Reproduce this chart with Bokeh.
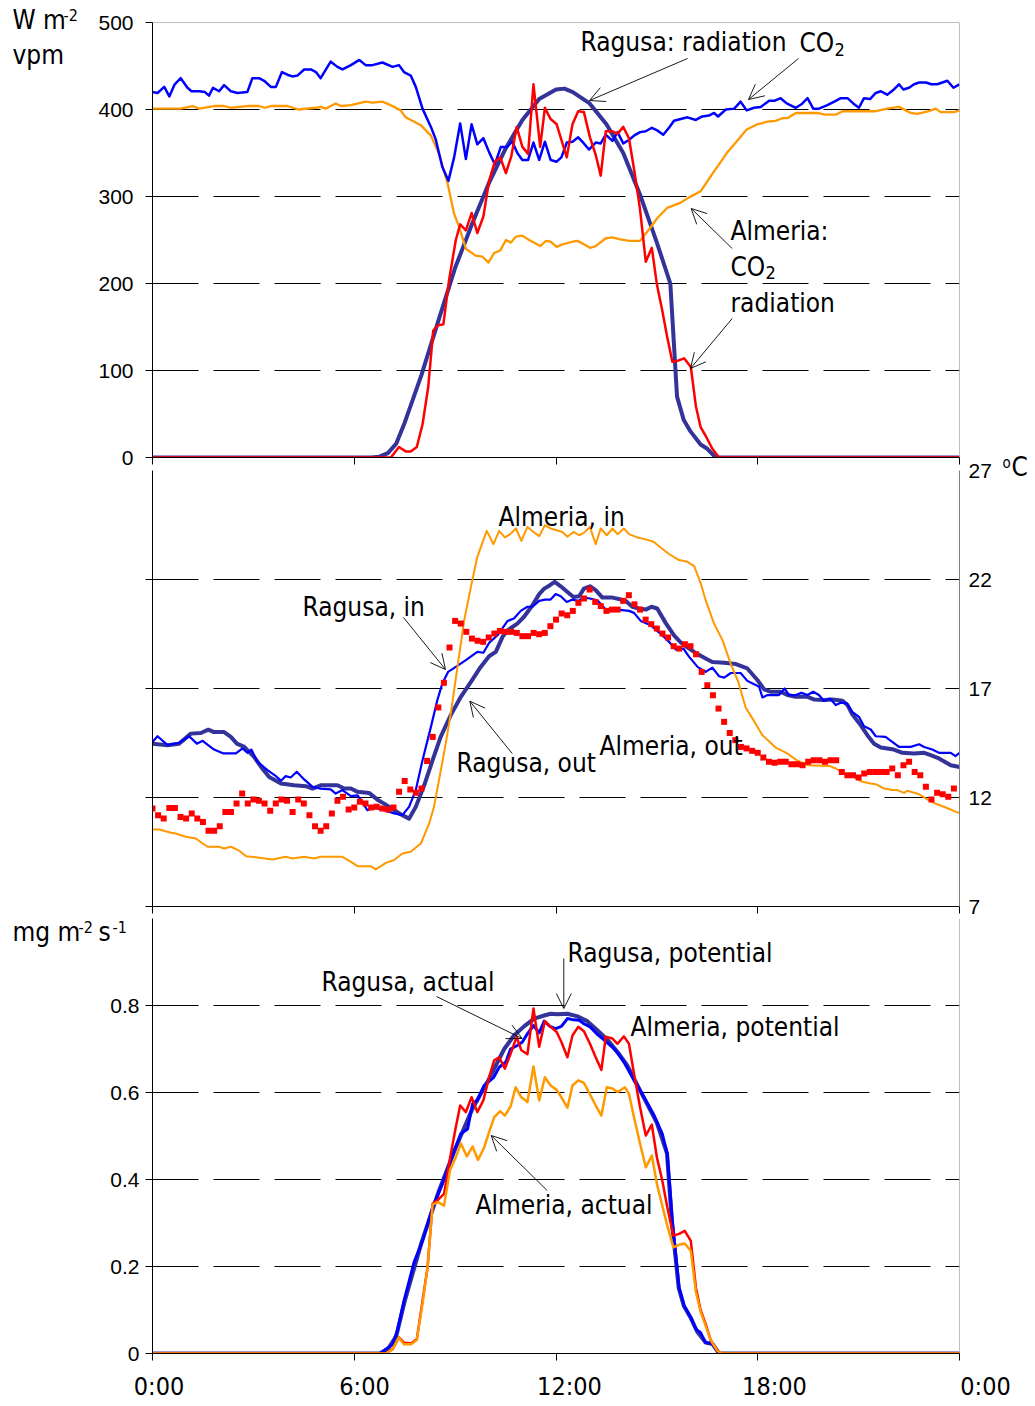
from bokeh.plotting import figure
from bokeh.layouts import column
from bokeh.models import (Range1d, LinearAxis, FixedTicker, Label, Arrow, OpenHead, Span,
                          CustomLabelingPolicy)
from bokeh.embed import file_html
from bokeh.resources import INLINE

# ---------------- DATA (hours of day) ----------------
time_ticks = [0, 6, 12, 18, 24]
time_tick_labels = ["0:00", "6:00", "12:00", "18:00", "0:00"]

# --- top panel: radiation (W m-2) and CO2 (vpm)
rag_rad_t = [0, 6.5, 6.75, 7.0, 7.25, 7.5, 8.0, 8.5, 9.0, 9.5,
             10.0, 10.5, 11.0, 11.5, 12.0, 12.25, 12.5, 13.0, 13.5, 14.0,
             14.5, 15.0, 15.4, 15.6, 15.8, 16.0, 16.3, 16.5, 16.75, 24]
rag_rad = [0, 0, 1, 5, 16, 40, 95, 157, 218, 268,
           315, 355, 388, 412, 423, 424, 420, 407, 383, 350,
           302, 247, 200, 70, 43, 30, 15, 10, 0, 0]

rag_co2_t = [0, 0.15, 0.35, 0.5, 0.66, 0.84, 1.04, 1.16, 1.39, 1.56,
             1.68, 1.8, 1.98, 2.13, 2.33, 2.53, 2.82, 2.97, 3.17, 3.32,
             3.52, 3.67, 3.85, 4.01, 4.16, 4.31, 4.51, 4.71, 4.86, 5.0,
             5.3, 5.5, 5.65, 5.9, 6.15, 6.34, 6.54, 6.84, 7.14, 7.33,
             7.48, 7.68, 7.83, 8.03, 8.28, 8.42, 8.62, 8.8, 8.97, 9.15,
             9.32, 9.49, 9.66, 9.84, 10.01, 10.18, 10.36, 10.54, 10.7, 10.85,
             11.0, 11.17, 11.33, 11.5, 11.67, 11.84, 12.02, 12.16, 12.32, 12.49,
             12.66, 12.83, 12.98, 13.18, 13.33, 13.48, 13.68, 13.83, 14.0, 14.17,
             14.32, 14.5, 14.67, 14.85, 15.01, 15.19, 15.36, 15.51, 15.71, 15.91,
             16.16, 16.35, 16.55, 16.7, 16.82, 17.05, 17.3, 17.49, 17.67, 17.89,
             18.09, 18.34, 18.49, 18.68, 18.86, 19.13, 19.3, 19.48, 19.65, 19.82,
             20.07, 20.32, 20.47, 20.67, 20.84, 21.01, 21.16, 21.34, 21.51, 21.66,
             21.85, 22.05, 22.2, 22.33, 22.5, 22.65, 22.8, 23.0, 23.16, 23.34,
             23.49, 23.64, 23.82, 24.0]
rag_co2 = [420, 419, 426, 415, 429, 436, 425, 421, 421, 420,
           416, 425, 421, 428, 421, 419, 420, 436, 436, 433,
           426, 426, 443, 440, 438, 439, 446, 446, 443, 436,
           455, 449, 446, 451, 457, 451, 451, 454, 449, 451,
           443, 439, 426, 401, 380, 366, 334, 318, 345, 384,
           343, 383, 360, 367, 351, 337, 357, 357, 363, 350,
           342, 342, 362, 342, 363, 342, 340, 345, 362, 363,
           368, 361, 354, 362, 361, 371, 364, 374, 361, 365,
           370, 374, 375, 379, 376, 371, 379, 387, 389, 391,
           388, 392, 393, 396, 392, 400, 401, 409, 399, 402,
           403, 410, 410, 413, 407, 402, 406, 413, 401, 401,
           405, 410, 413, 413, 407, 402, 413, 412, 419, 421,
           417, 423, 429, 423, 425, 429, 431, 431, 429, 429,
           431, 433, 425, 429]

alm_co2_t = [0, 0.84, 1.19, 1.39, 1.83, 2.13, 2.33, 2.82, 3.17, 3.34,
             3.52, 4.01, 4.34, 4.86, 5.0, 5.15, 5.3, 5.45, 5.6, 5.9,
             6.34, 6.54, 6.84, 7.19, 7.38, 7.53, 7.98, 8.28, 8.52, 8.77,
             8.97, 9.12, 9.32, 9.61, 9.81, 9.99, 10.16, 10.34, 10.51, 10.66,
             10.81, 11.0, 11.2, 11.53, 11.7, 11.84, 12.02, 12.19, 12.49, 12.64,
             12.83, 13.01, 13.18, 13.48, 13.68, 13.88, 14.17, 14.5, 14.82, 15.01,
             15.31, 15.71, 15.96, 16.3, 16.65, 17.1, 17.39, 17.67, 17.99, 18.29,
             18.53, 18.73, 18.88, 19.13, 19.77, 19.99, 20.32, 20.52, 21.51, 21.85,
             22.2, 22.55, 22.75, 23.09, 23.29, 23.44, 23.84, 24.0]
alm_co2 = [401, 401, 404, 401, 404, 404, 402, 404, 404, 402,
           404, 404, 400, 402, 403, 401, 404, 407, 404, 405,
           409, 408, 409, 403, 399, 391, 382, 370, 349, 316,
           280, 265, 240, 232, 231, 224, 235, 238, 250, 247,
           254, 255, 250, 243, 249, 248, 242, 245, 248, 249,
           245, 241, 243, 252, 253, 251, 249, 249, 265, 275,
           287, 293, 299, 306, 326, 351, 364, 377, 383, 386,
           387, 390, 390, 396, 396, 394, 394, 398, 398, 401,
           403, 396, 395, 398, 401, 397, 397, 399]

alm_rad_t = [0, 7.09, 7.33, 7.53, 7.68, 7.86, 8.03, 8.2, 8.35, 8.49,
             8.65, 8.82, 9.02, 9.15, 9.32, 9.49, 9.66, 9.84, 10.01, 10.18,
             10.34, 10.51, 10.67, 10.83, 11.0, 11.17, 11.33, 11.53, 11.67, 11.84,
             12.02, 12.16, 12.32, 12.49, 12.66, 12.83, 13.01, 13.18, 13.33, 13.48,
             13.68, 13.83, 14.0, 14.17, 14.34, 14.5, 14.67, 14.85, 15.0, 15.16,
             15.31, 15.46, 15.61, 15.81, 16.01, 16.16, 16.3, 16.45, 16.65, 16.85,
             24]
alm_rad = [0, 0, 12, 7, 7, 12, 38, 81, 146, 152,
           153, 204, 250, 268, 261, 281, 258, 277, 318, 340,
           345, 327, 346, 380, 357, 349, 429, 357, 402, 389,
           383, 365, 345, 383, 398, 397, 368, 348, 324, 375,
           375, 372, 380, 367, 327, 285, 225, 241, 199, 169,
           138, 110, 111, 114, 104, 59, 35, 25, 10, 0,
           0]

# --- middle panel: temperatures (deg C)
rag_in_t = [0, 0.15, 0.45, 0.79, 1.09, 1.32, 1.49, 1.83, 2.11, 2.48,
            2.68, 2.82, 2.94, 3.12, 3.42, 3.67, 3.82, 3.96, 4.11, 4.29,
            4.51, 4.76, 5.0, 5.3, 5.45, 5.65, 5.9, 6.1, 6.39, 6.59,
            6.89, 7.19, 7.43, 7.63, 7.83, 8.03, 8.28, 8.47, 8.62, 8.79,
            9.02, 9.32, 9.66, 9.84, 10.01, 10.26, 10.56, 10.75, 10.95, 11.15,
            11.3, 11.5, 11.67, 11.84, 11.99, 12.14, 12.32, 12.49, 12.66, 12.83,
            13.01, 13.23, 13.48, 13.83, 14.17, 14.32, 14.52, 14.82, 15.16, 15.36,
            15.56, 15.79, 15.96, 16.21, 16.45, 16.65, 16.85, 17.0, 17.2, 17.49,
            17.69, 17.89, 18.04, 18.14, 18.29, 18.63, 18.8, 18.93, 19.13, 19.3,
            19.48, 19.65, 19.82, 19.97, 20.15, 20.32, 20.47, 20.65, 20.81, 21.01,
            21.16, 21.36, 21.51, 21.8, 22.0, 22.2, 22.55, 22.8, 22.95, 23.19,
            23.39, 23.74, 23.88, 24.0]
rag_in = [14.55, 14.81, 14.4, 14.51, 14.81, 14.47, 14.6, 14.2, 14.02, 14.02,
          14.25, 14.05, 14.2, 13.64, 13.26, 12.98, 12.77, 12.98, 12.92, 13.18,
          12.83, 12.49, 12.41, 12.37, 12.18, 12.34, 12.06, 12.1, 11.42, 11.54,
          11.42, 11.27, 11.19, 11.57, 12.34, 13.71, 15.24, 16.46, 17.23, 17.76,
          17.99, 18.3, 18.68, 18.64, 19.09, 19.44, 20.1, 20.21, 20.56, 20.75,
          20.75, 21.02, 21.08, 21.08, 21.33, 21.23, 20.97, 21.08, 21.02, 21.17,
          21.13, 21.05, 20.62, 20.62, 20.56, 20.47, 20.1, 19.9, 19.44, 19.14,
          18.79, 18.83, 18.45, 17.99, 17.76, 17.96, 17.56, 17.5, 17.71, 17.71,
          17.35, 17.2, 17.08, 16.59, 16.7, 16.7, 17.0, 16.7, 16.7, 16.8,
          16.7, 16.85, 16.7, 16.43, 16.54, 16.24, 16.35, 16.32, 15.93, 15.7,
          15.27, 15.12, 14.81, 14.78, 14.55, 14.32, 14.32, 14.44, 14.32, 14.2,
          14.05, 14.05, 13.9, 14.05]

rag_out_t = [0, 0.45, 0.79, 1.14, 1.44, 1.66, 1.83, 2.13, 2.33, 2.51,
             2.73, 3.02, 3.27, 3.47, 3.82, 4.21, 4.56, 4.76, 5.0, 5.5,
             5.7, 5.9, 6.1, 6.44, 6.69, 6.89, 7.19, 7.38, 7.63, 7.83,
             8.08, 8.33, 8.57, 8.87, 9.17, 9.47, 9.76, 10.01, 10.21, 10.41,
             10.56, 10.85, 11.05, 11.3, 11.5, 11.65, 11.82, 11.96, 12.14, 12.34,
             12.52, 12.69, 12.83, 13.01, 13.18, 13.38, 13.68, 13.93, 14.07, 14.27,
             14.47, 14.67, 14.84, 15.01, 15.26, 15.51, 15.71, 15.96, 16.21, 16.45,
             16.65, 17.0, 17.35, 17.69, 17.99, 18.19, 18.39, 18.68, 18.88, 19.13,
             19.48, 19.67, 19.97, 20.22, 20.52, 20.67, 20.81, 21.06, 21.26, 21.46,
             21.66, 22.05, 22.3, 22.65, 22.95, 23.14, 23.39, 23.74, 24.0]
rag_out = [14.47, 14.4, 14.47, 14.93, 14.96, 15.11, 15.0, 15.0, 14.78, 14.47,
           14.32, 13.86, 13.32, 12.94, 12.64, 12.56, 12.52, 12.41, 12.56, 12.56,
           12.41, 12.41, 12.26, 12.21, 11.9, 11.72, 11.42, 11.23, 11.03, 11.57,
           12.56, 13.71, 14.78, 15.78, 16.62, 17.3, 17.99, 18.48, 18.68, 19.37,
           19.67, 19.98, 20.29, 20.82, 21.33, 21.58, 21.74, 21.89, 21.69, 21.43,
           21.2, 21.23, 21.58, 21.69, 21.51, 21.17, 21.17, 21.08, 21.02, 20.75,
           20.67, 20.62, 20.75, 20.67, 20.01, 19.44, 19.11, 18.83, 18.58, 18.38,
           18.22, 18.18, 18.12, 17.92, 17.39, 16.96, 16.85, 16.85, 16.7, 16.62,
           16.62, 16.5, 16.47, 16.5, 16.44, 16.24, 15.82, 15.32, 14.86, 14.47,
           14.29, 14.2, 14.05, 14.02, 14.05, 13.94, 13.79, 13.48, 13.4]

alm_in_t = [0, 0.2, 0.55, 0.69, 0.99, 1.29, 1.49, 1.64, 1.98, 2.13,
            2.33, 2.58, 2.78, 3.12, 3.57, 3.96, 4.16, 4.51, 4.81, 5.0,
            5.3, 5.65, 5.9, 6.1, 6.49, 6.64, 6.94, 7.19, 7.43, 7.68,
            7.98, 8.23, 8.37, 8.52, 8.72, 8.87, 9.07, 9.27, 9.47, 9.66,
            9.94, 10.14, 10.31, 10.48, 10.64, 10.81, 10.97, 11.15, 11.33, 11.5,
            11.67, 11.84, 12.02, 12.19, 12.34, 12.52, 12.69, 12.83, 13.01, 13.18,
            13.33, 13.51, 13.68, 13.83, 14.02, 14.17, 14.42, 14.67, 14.9, 15.11,
            15.36, 15.66, 15.91, 16.11, 16.3, 16.45, 16.7, 16.95, 17.2, 17.42,
            17.64, 17.84, 18.14, 18.53, 18.88, 19.13, 19.48, 20.15, 20.32, 20.57,
            20.86, 21.11, 21.36, 21.51, 21.76, 22.0, 22.15, 22.35, 22.45, 22.8,
            23.04, 23.24, 23.59, 23.9, 24.0]
alm_in = [10.53, 10.53, 10.38, 10.35, 10.2, 10.12, 9.89, 9.74, 9.74, 9.66,
          9.74, 9.56, 9.31, 9.25, 9.16, 9.28, 9.2, 9.28, 9.2, 9.28,
          9.28, 9.28, 9.05, 8.85, 8.85, 8.7, 9.0, 9.13, 9.43, 9.51,
          9.89, 10.81, 11.57, 12.79, 14.47, 15.85, 17.99, 20.13, 21.66, 23.04,
          24.23, 23.62, 24.23, 23.93, 24.08, 24.34, 23.77, 24.41, 24.18, 23.99,
          24.49, 24.34, 24.26, 24.18, 23.96, 24.18, 24.03, 24.14, 24.41, 23.62,
          24.34, 24.03, 24.34, 24.08, 24.34, 24.08, 23.93, 23.84, 23.73, 23.47,
          23.17, 22.89, 22.81, 22.61, 21.85, 21.05, 19.98, 19.22, 18.12, 17.31,
          16.13, 15.63, 14.86, 14.29, 14.02, 13.74, 13.48, 13.44, 13.33, 13.1,
          12.92, 12.72, 12.64, 12.61, 12.41, 12.34, 12.34, 12.21, 12.31, 12.15,
          11.91, 11.75, 11.54, 11.34, 11.29]

# Almeria outside temperature, one reading every 10 minutes from 0:00 to 23:50
alm_out = [11.49, 11.19, 11.04, 11.52, 11.52, 11.11, 11.04, 11.27, 11.04, 10.88,
           10.47, 10.47, 10.68, 11.34, 11.34, 11.72, 12.18, 11.72, 11.91, 11.85,
           11.72, 11.39, 11.72, 11.91, 11.85, 11.34, 11.91, 11.72, 11.19, 10.68,
           10.47, 10.68, 11.27, 11.85, 12.03, 11.45,
           11.54, 11.8, 11.72, 11.54, 11.57, 11.49, 11.45, 11.54, 12.26, 12.76,
           12.37, 12.22, 12.41, 13.68, 14.78, 16.13, 17.26, 18.88, 20.1, 19.98,
           19.6, 19.29, 19.19, 19.14, 19.34, 19.52, 19.64, 19.6, 19.6, 19.55,
           19.4, 19.4, 19.55, 19.49, 19.55, 19.86, 20.16, 20.44, 20.36, 20.56,
           20.93, 21.13, 21.54, 20.97, 20.78, 20.56, 20.62, 20.62, 21.02, 21.28,
           20.86, 20.62, 20.16, 19.95, 19.75, 19.52, 19.34, 18.94, 18.83, 19.03,
           18.94, 18.57, 17.76,
           17.15, 16.69, 16.08, 15.47, 14.96, 14.63, 14.32, 14.25, 14.14, 14.05,
           13.83, 13.64, 13.59, 13.64, 13.64, 13.53, 13.53, 13.48, 13.64, 13.71,
           13.71, 13.64, 13.71, 13.71, 13.17, 13.02, 13.02, 12.92, 13.1, 13.17,
           13.17, 13.17, 13.17, 13.33, 13.02, 13.48, 13.64, 13.17, 13.02, 12.49,
           11.91, 12.22, 12.15, 12.03, 12.41]
alm_out_t = [i / 6 for i in range(len(alm_out))]

# --- bottom panel: photosynthesis (mg m-2 s-1)
rag_pot_t = [0, 6.75, 7.0, 7.25, 7.5, 8.0, 8.5, 9.0, 9.5, 10.0,
             10.46, 10.75, 11.05, 11.35, 11.65, 11.84, 12.04, 12.34, 12.64, 12.93,
             13.23, 13.53, 13.83, 14.12, 14.5, 15.0, 15.3, 15.45, 15.65, 15.8,
             16.0, 16.2, 16.45, 16.65, 16.85, 24]
rag_pot = [0, 0, 0.01, 0.04, 0.12, 0.255, 0.37, 0.47, 0.56, 0.63,
           0.70, 0.731, 0.752, 0.77, 0.777, 0.781, 0.78, 0.781, 0.775, 0.764,
           0.743, 0.721, 0.693, 0.662, 0.605, 0.53, 0.46, 0.30, 0.15, 0.11,
           0.083, 0.05, 0.025, 0.022, 0, 0]

rag_act_t = [0, 6.79, 6.94, 7.14, 7.28, 7.48, 7.78, 8.03, 8.33, 8.62,
             8.87, 9.17, 9.37, 9.52, 9.66, 9.86, 10.14, 10.31, 10.51, 10.65,
             10.85, 11.0, 11.15, 11.33, 11.5, 11.65, 11.82, 11.99, 12.16, 12.34,
             12.52, 12.69, 12.83, 13.01, 13.21, 13.43, 13.68, 13.83, 14.02, 14.32,
             14.62, 14.92, 15.16, 15.31, 15.46, 15.66, 15.81, 16.01, 16.16, 16.3,
             16.45, 16.65, 16.85, 24]
rag_act = [0, 0, 0.01, 0.021, 0.052, 0.121, 0.21, 0.259, 0.336, 0.39,
           0.444, 0.505, 0.516, 0.574, 0.582, 0.616, 0.634, 0.658, 0.67, 0.70,
           0.708, 0.716, 0.735, 0.754, 0.737, 0.764, 0.752, 0.747, 0.752, 0.77,
           0.767, 0.766, 0.758, 0.751, 0.735, 0.721, 0.704, 0.691, 0.67, 0.628,
           0.589, 0.547, 0.505, 0.459, 0.305, 0.152, 0.11, 0.083, 0.056, 0.048,
           0.025, 0.023, 0, 0]

alm_pot_t = [0, 6.94, 7.14, 7.33, 7.48, 7.68, 7.86, 8.03, 8.18, 8.33,
             8.49, 8.67, 8.85, 9.02, 9.15, 9.32, 9.49, 9.66, 9.84, 10.01,
             10.16, 10.31, 10.48, 10.65, 10.83, 10.97, 11.15, 11.33, 11.5, 11.67,
             11.84, 12.02, 12.16, 12.34, 12.49, 12.66, 12.83, 13.01, 13.18, 13.35,
             13.48, 13.68, 13.83, 14.02, 14.17, 14.32, 14.5, 14.67, 14.85, 15.0,
             15.16, 15.31, 15.49, 15.66, 15.83, 16.01, 16.16, 16.3, 16.45, 16.6,
             16.8, 16.95, 24]
alm_pot = [0, 0, 0.01, 0.037, 0.025, 0.023, 0.033, 0.121, 0.198, 0.344,
           0.353, 0.367, 0.45, 0.52, 0.57, 0.555, 0.589, 0.555, 0.582, 0.635,
           0.674, 0.681, 0.655, 0.689, 0.728, 0.697, 0.688, 0.793, 0.705, 0.764,
           0.751, 0.739, 0.716, 0.681, 0.731, 0.751, 0.741, 0.712, 0.681, 0.652,
           0.728, 0.724, 0.712, 0.729, 0.712, 0.643, 0.566, 0.501, 0.526, 0.451,
           0.398, 0.336, 0.271, 0.275, 0.282, 0.259, 0.152, 0.10, 0.068, 0.031,
           0.006, 0, 0]

alm_act_t = [0, 6.94, 7.14, 7.33, 7.48, 7.68, 7.86, 8.03, 8.18, 8.33,
             8.49, 8.67, 8.85, 9.02, 9.17, 9.35, 9.52, 9.68, 9.86, 10.01,
             10.16, 10.34, 10.48, 10.65, 10.8, 10.97, 11.15, 11.33, 11.5, 11.67,
             11.84, 12.02, 12.16, 12.34, 12.49, 12.66, 12.83, 13.01, 13.18, 13.35,
             13.51, 13.68, 13.83, 14.05, 14.17, 14.32, 14.5, 14.67, 14.85, 15.0,
             15.16, 15.31, 15.49, 15.66, 15.83, 16.01, 16.16, 16.3, 16.45, 16.6,
             16.8, 16.95, 24]
alm_act = [0, 0, 0.01, 0.037, 0.021, 0.021, 0.031, 0.114, 0.198, 0.342,
           0.348, 0.34, 0.422, 0.451, 0.483, 0.453, 0.476, 0.445, 0.473, 0.509,
           0.543, 0.557, 0.547, 0.568, 0.612, 0.589, 0.578, 0.66, 0.582, 0.635,
           0.616, 0.606, 0.589, 0.565, 0.616, 0.628, 0.622, 0.596, 0.57, 0.547,
           0.612, 0.609, 0.601, 0.612, 0.597, 0.543, 0.482, 0.428, 0.455, 0.39,
           0.34, 0.294, 0.244, 0.25, 0.253, 0.236, 0.142, 0.096, 0.064, 0.031,
           0.006, 0, 0]

# ---------------- STYLE ----------------
NARROW = "DejaVu Sans Condensed, Liberation Sans"
REG = "Liberation Sans"
NAVY = "#333399"
BLUE = "#0000FF"
RED = "#FF0000"
ORANGE = "#FF9900"
GRAY = "#808080"

W = 1032
OV_H = 1405
LB, RB = 152, 73
X0, PXH = 152.0, 807 / 24
BASELINE_SHIFT = 0.4   # measured offset of rendered baseline, in em


def hx(px):
    return (px - X0) / PXH


def y1(py):
    return (457.0 - py) / 0.87


def y2(py):
    return 27 - (py - 470.0) / 21.8


def y3(py):
    return (1353.0 - py) / 435.0


def ident(v):
    return v


def no_labels(ax):
    ax.major_label_text_font_size = "1px"
    ax.major_label_standoff = 0
    ax.major_label_policy = CustomLabelingPolicy(code="return []")


def base_fig(height, top, bottom, y0, yend):
    p = figure(width=W, height=height, x_range=Range1d(0, 24), y_range=Range1d(y0, yend),
               output_backend="svg", toolbar_location=None,
               min_border_left=LB, min_border_right=RB,
               min_border_top=top, min_border_bottom=bottom)
    p.outline_line_color = None
    p.background_fill_alpha = 0
    p.border_fill_alpha = 0
    p.xgrid.visible = False
    p.ygrid.grid_line_color = "black"
    p.ygrid.grid_line_dash = "46 15"
    p.ygrid.grid_line_width = 1
    for ax in p.axis:
        ax.axis_line_color = "black"
        ax.axis_line_width = 1
        ax.major_tick_line_color = "black"
        ax.major_tick_out = 7
        ax.major_tick_in = 0
        ax.minor_tick_line_color = None
        ax.major_label_text_color = "black"
    p.xaxis.ticker = FixedTicker(ticks=time_ticks)
    no_labels(p.xaxis[0])
    p.yaxis.major_label_text_font = REG
    p.yaxis.major_label_text_font_size = "21px"
    return p


def text(p, s, px, py, yconv, size=26, font=NARROW, align="left", xconv=hx):
    py_adj = py - BASELINE_SHIFT * size
    p.add_layout(Label(x=xconv(px), y=yconv(py_adj), text=s, text_font=font,
                       text_font_size=f"{size}px", text_color="black",
                       text_align=align, text_baseline="alphabetic"))


def arrow(p, x0, yy0, x1, yy1, yconv):
    p.add_layout(Arrow(end=OpenHead(size=15, line_width=0.9, line_color="black"),
                       x_start=hx(x0), y_start=yconv(yy0), x_end=hx(x1), y_end=yconv(yy1),
                       line_width=0.9, line_color="black"))


# ---------------- TOP PANEL (canvas y 0..482, frame 22..457) ----------------
p1 = base_fig(482, 22, 25, 0, 500)
p1.yaxis.ticker = FixedTicker(ticks=[0, 100, 200, 300, 400, 500])
p1.ygrid.ticker = FixedTicker(ticks=[100, 200, 300, 400])
p1.yaxis.major_label_standoff = 12
p1.add_layout(Span(location=500, dimension="width", line_color=GRAY, line_width=1))
p1.add_layout(Span(location=24, dimension="height", line_color=GRAY, line_width=1))

p1.line(rag_rad_t, rag_rad, line_color=NAVY, line_width=4, line_join="round")
p1.line(alm_co2_t, alm_co2, line_color=ORANGE, line_width=2.3, line_join="round")
p1.line(rag_co2_t, rag_co2, line_color=BLUE, line_width=2.5, line_join="round")
p1.line(alm_rad_t, alm_rad, line_color=RED, line_width=2.5, line_join="round")

text(p1, "Ragusa: radiation", 580, 52, y1)
text(p1, "CO", 799, 52.5, y1)
text(p1, "2", 834, 56, y1, size=18)
text(p1, "Almeria:", 730, 241, y1)
text(p1, "CO", 730, 277, y1)
text(p1, "2", 765, 279, y1, size=18)
text(p1, "radiation", 730, 313, y1)
arrow(p1, 687, 58, 589, 100, y1)
arrow(p1, 798, 58, 748, 99, y1)
arrow(p1, 731.7, 248, 690.7, 208, y1)
arrow(p1, 731.7, 318, 690, 368, y1)

# ---------------- MIDDLE PANEL (canvas y 445..931, frame 470..906) ----------------
p2 = base_fig(486, 25, 25, 7, 27)
p2.margin = (-37, 0, 0, 0)
p2.yaxis.ticker = FixedTicker(ticks=[7, 12, 17, 22])
no_labels(p2.yaxis[0])
p2.ygrid.ticker = FixedTicker(ticks=[12, 17, 22])
rax = LinearAxis(ticker=FixedTicker(ticks=[7, 12, 17, 22, 27]))
rax.axis_line_color = GRAY
rax.major_tick_out = 0
rax.major_tick_in = 0
rax.minor_tick_line_color = None
rax.major_label_standoff = 9
rax.major_label_text_font = REG
rax.major_label_text_font_size = "21px"
rax.major_label_text_color = "black"
p2.add_layout(rax, "right")

p2.line(rag_out_t, rag_out, line_color=NAVY, line_width=4, line_join="round")
p2.line(rag_in_t, rag_in, line_color=BLUE, line_width=2.2, line_join="round")
p2.line(alm_in_t, alm_in, line_color=ORANGE, line_width=2, line_join="round")
p2.scatter(alm_out_t, alm_out, marker="square", size=6, fill_color=RED, line_color=RED, line_width=0)

text(p2, "Almeria, in", 498, 526.7, y2)
text(p2, "Ragusa, in", 302, 616.7, y2)
text(p2, "Ragusa, out", 456, 773.3, y2)
text(p2, "Almeria, out", 599, 756, y2)
arrow(p2, 403, 617, 445, 669, y2)
arrow(p2, 511.7, 753, 469.3, 700.7, y2)

# ---------------- BOTTOM PANEL (canvas y 900..1402, frame 918..1353) ----------------
p3 = base_fig(502, 18, 49, 0, 1.0)
p3.margin = (-31, 0, 0, 0)
p3.yaxis.ticker = FixedTicker(ticks=[0, 0.2, 0.4, 0.6, 0.8])
p3.yaxis.major_label_overrides = {0: "0", 0.2: "0.2", 0.4: "0.4", 0.6: "0.6", 0.8: "0.8"}
p3.yaxis.major_label_standoff = 6
p3.ygrid.ticker = FixedTicker(ticks=[0.2, 0.4, 0.6, 0.8])
p3.add_layout(Span(location=24, dimension="height", line_color=GRAY, line_width=1))

p3.line(rag_pot_t, rag_pot, line_color=NAVY, line_width=4, line_join="round")
p3.line(rag_act_t, rag_act, line_color=BLUE, line_width=3, line_join="round")
p3.line(alm_pot_t, alm_pot, line_color=RED, line_width=2.5, line_join="round")
p3.line(alm_act_t, alm_act, line_color=ORANGE, line_width=2.5, line_join="round")

text(p3, "Ragusa, potential", 567, 963.3, y3)
text(p3, "Ragusa, actual", 321, 991.7, y3)
text(p3, "Almeria, potential", 630, 1037, y3)
text(p3, "Almeria, actual", 475, 1215, y3)
arrow(p3, 563.3, 958, 563.3, 1008, y3)
arrow(p3, 436, 996, 521.7, 1038, y3)
arrow(p3, 546.7, 1190, 490.7, 1135, y3)

# ---------------- TRANSPARENT OVERLAY (separate root, pinned at the page origin) ----------------
ov = figure(width=W, height=OV_H, x_range=Range1d(0, W), y_range=Range1d(OV_H, 0),
            output_backend="svg", toolbar_location=None, x_axis_type=None, y_axis_type=None,
            min_border_left=0, min_border_right=0, min_border_top=0, min_border_bottom=0)
ov.styles = {"position": "absolute", "top": "0px", "left": "0px"}
ov.outline_line_color = None
ov.background_fill_alpha = 0
ov.border_fill_alpha = 0
ov.grid.visible = False

# unit labels
text(ov, "W m", 12, 30, ident, xconv=ident)
text(ov, "-2", 63, 21, ident, size=16, xconv=ident)
text(ov, "vpm", 12, 65, ident, xconv=ident)
text(ov, "o", 1002, 468, ident, size=15, xconv=ident)
text(ov, "C", 1011, 477, ident, xconv=ident)
text(ov, "mg m", 12, 941.7, ident, xconv=ident)
text(ov, "-2", 78, 933, ident, size=16, xconv=ident)
text(ov, "s", 98, 941.7, ident, xconv=ident)
text(ov, "-1", 112, 933, ident, size=16, xconv=ident)

# time-axis tick labels (positioned as in the original, slightly right of each tick)
label_centers_px = [158.5, 364, 569, 774, 985]
for lbl, cx in zip(time_tick_labels, label_centers_px):
    text(ov, lbl, cx, 1396, ident, size=25, align="center", xconv=ident)

layout = column(p1, p2, p3)
open("out.html", "w").write(file_html([layout, ov], INLINE))
